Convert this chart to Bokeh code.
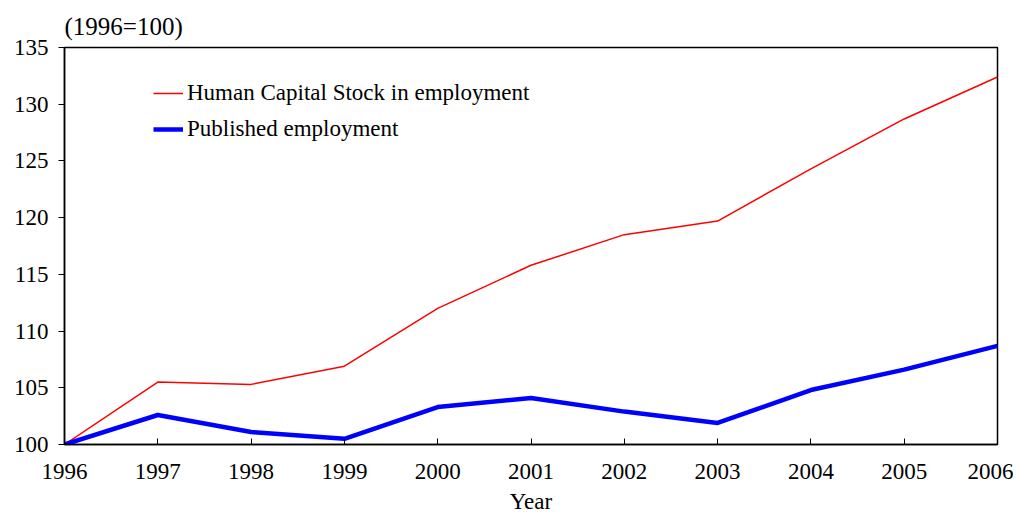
from bokeh.plotting import figure
from bokeh.models import Legend, LegendItem, FixedTicker
from bokeh.embed import file_html
from bokeh.resources import INLINE

years = [1996, 1997, 1998, 1999, 2000, 2001, 2002, 2003, 2004, 2005, 2006]
human_capital = [100.0, 105.5, 105.3, 106.9, 112.0, 115.8, 118.5, 119.7, 124.3, 128.7, 132.4]
published_emp = [100.0, 102.6, 101.1, 100.5, 103.3, 104.1, 102.9, 101.9, 104.8, 106.6, 108.7]
y_ticks = [100, 105, 110, 115, 120, 125, 130, 135]
x_title = "Year"

FONT = "Liberation Serif"
FS = "23px"

p = figure(width=1013, height=522, output_backend="svg", toolbar_location=None,
           x_range=(1996, 2006), y_range=(100, 135),
           min_border_left=64, min_border_right=16, min_border_top=47, min_border_bottom=78,
           title="(1996=100)")
p.title.text_font = FONT
p.title.text_font_size = "25px"
p.title.text_font_style = "normal"
p.title.text_color = "black"
p.title.align = "left"
p.title.offset = 0
p.title.standoff = 16

p.outline_line_color = "black"
p.outline_line_width = 1.5
p.outline_line_alpha = 1
p.xgrid.visible = False
p.ygrid.visible = False
p.background_fill_color = "white"
p.border_fill_color = "white"

p.xaxis.ticker = FixedTicker(ticks=years)
p.yaxis.ticker = FixedTicker(ticks=y_ticks)
for ax in (p.xaxis[0], p.yaxis[0]):
    ax.axis_line_color = "black"
    ax.axis_line_width = 1.5
    ax.major_tick_line_color = "black"
    ax.minor_tick_line_color = None
    ax.major_label_text_font = FONT
    ax.major_label_text_font_size = FS
    ax.major_label_text_color = "black"
    ax.axis_label_text_font = FONT
    ax.axis_label_text_font_size = FS
    ax.axis_label_text_font_style = "normal"
    ax.axis_label_text_color = "black"

p.xaxis.major_tick_in = 6
p.xaxis.major_tick_out = 0
p.xaxis.major_label_standoff = 19
p.xaxis.axis_label = x_title
p.xaxis.axis_label_standoff = 7

p.yaxis.major_tick_in = 0
p.yaxis.major_tick_out = 6
p.yaxis.major_label_standoff = 10

r1 = p.line(years, human_capital, line_color="red", line_width=1.5)
r2 = p.line(years, published_emp, line_color="blue", line_width=4.5)

legend = Legend(items=[LegendItem(label="Human Capital Stock in employment", renderers=[r1]),
                       LegendItem(label="Published employment", renderers=[r2])],
                location=(89, 302))
legend.border_line_color = None
legend.background_fill_alpha = 0
legend.padding = 0
legend.margin = 0
legend.spacing = 10
legend.glyph_width = 30
legend.glyph_height = 20
legend.label_height = 20
legend.label_standoff = 4
legend.label_text_font = FONT
legend.label_text_font_size = FS
legend.label_text_color = "black"
p.add_layout(legend)

open("out.html", "w").write(file_html(p, INLINE))
